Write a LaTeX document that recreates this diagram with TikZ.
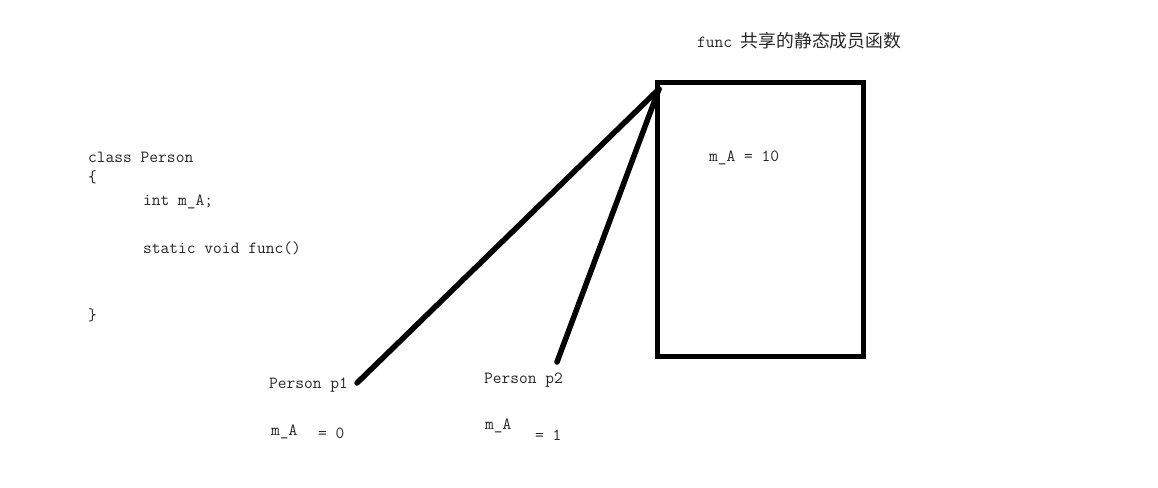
\documentclass[tikz,border=0pt]{standalone}
\usepackage{fontspec}
\newfontfamily\cjk{Noto Sans CJK SC}
\begin{document}
\begin{tikzpicture}[x=1pt,y=-1pt,
  code/.style={font=\ttfamily\fontsize{17}{19}\selectfont, text=black!85, anchor=west, inner sep=0pt},
  thick line/.style={line width=5.5pt, line cap=round},
  boxstyle/.style={draw, line width=5pt, minimum width=206pt, minimum height=274pt, inner sep=0pt, outer sep=0pt, anchor=north west}]
\useasboundingbox (0,0) rectangle (1158,487);
% class declaration
\node[code] (cls) at (88,157) {class Person};
\node[code] (ob) at (88,177) {\{};
\node[code] (ma) at (143,202) {int m\_A;};
\node[code] (sf) at (143,248) {static void func()};
\node[code] (cb) at (88,315) {\}};
% shared box
\node[boxstyle] (box) at (657,82) {};
\node[code] (title) at (697,41) {func\ {\cjk\fontsize{17.8}{19}\selectfont 共享的静态成员函数}};
\node[code] (boxval) at (709,158) {m\_A = 10};
% objects
\node[code] (p1) at (269,385) {Person p1};
\node[code] (p1a) at (271,432) {m\_A};
\node[code] (p1v) at (318,433) {= 0};
\node[code] (p2) at (484,380) {Person p2};
\node[code] (p2a) at (485,426) {m\_A};
\node[code] (p2v) at (535,435) {= 1};
% connectors
\coordinate (apex) at (659,89);
\coordinate (e1) at (357,383);
\coordinate (e2) at (557,362);
\draw[thick line] (apex) -- (e1);
\draw[thick line] (apex) -- (e2);
\end{tikzpicture}
\end{document}
